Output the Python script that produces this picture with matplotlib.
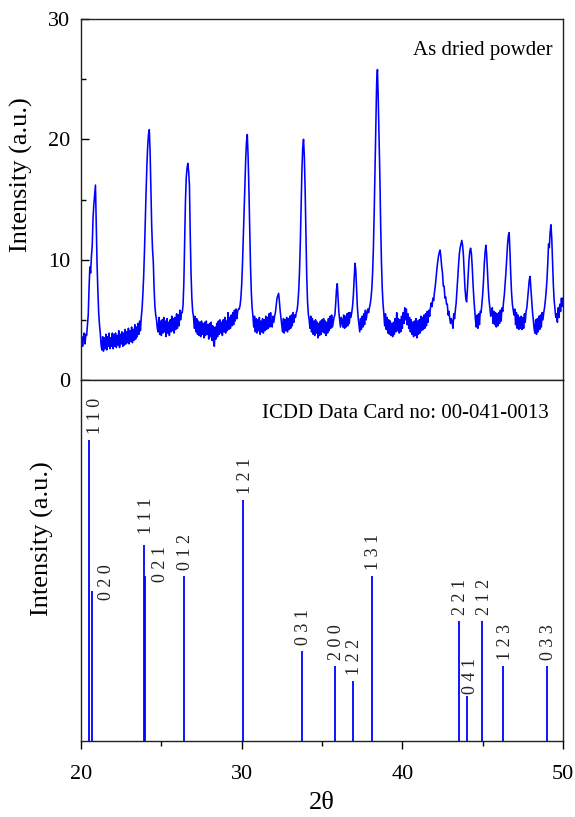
import numpy as np
import matplotlib
matplotlib.use("Agg")
import matplotlib.pyplot as plt
from matplotlib.ticker import MultipleLocator

plt.rcParams['font.family'] = ['Liberation Serif', 'DejaVu Serif']

# Measured pattern: intensity every 0.05 deg 2-theta, starting at 20.00 (one row per degree)
scan_start = 20.0
scan_step = 0.05
intensity_obs = [
    3.1, 3.6, 2.8, 3.5, 3.9, 3.0, 3.8, 3.7, 4.6, 5.4, 7.6, 9.4, 8.9, 10.3, 11.2, 13.5, 14.6, 15.4, 16.2, 12.8,   # 20
    9.6, 7.4, 5.6, 4.6, 3.9, 2.9, 2.5, 3.6, 2.4, 3.5, 2.6, 3.8, 2.5, 3.6, 2.8, 3.9, 2.6, 3.5, 2.8, 3.9,         # 21
    2.6, 3.8, 2.8, 3.9, 2.7, 3.7, 2.9, 4.1, 2.7, 3.8, 3.0, 4.0, 2.8, 3.9, 2.9, 4.2, 3.0, 4.0, 3.1, 4.3,         # 22
    3.0, 4.1, 3.2, 4.4, 3.1, 4.2, 3.3, 4.6, 3.4, 4.4, 3.6, 4.7, 3.8, 4.9, 4.1, 5.2, 5.9, 7.1, 8.6, 10.7,        # 23
    13.2, 15.6, 17.8, 19.4, 20.4, 20.8, 19.0, 15.8, 12.8, 10.9, 9.8, 7.6, 6.1, 5.4, 5.0, 4.3, 4.0, 5.2, 3.8, 4.9,  # 24
    3.7, 5.0, 3.9, 5.2, 4.0, 4.9, 3.6, 5.1, 3.9, 4.8, 3.7, 5.0, 4.0, 5.3, 4.1, 5.1, 3.9, 5.2, 4.2, 5.5,         # 25
    4.3, 5.4, 4.5, 5.8, 5.0, 5.6, 5.6, 6.2, 8.0, 11.2, 14.8, 16.8, 17.6, 18.0, 17.3, 16.2, 12.0, 8.8, 6.8, 5.7,  # 26
    5.3, 4.3, 5.3, 4.0, 5.1, 3.8, 4.9, 3.7, 4.8, 3.6, 4.9, 3.8, 4.7, 3.5, 4.8, 3.7, 4.9, 3.8, 4.6, 3.4,         # 27
    4.7, 3.6, 4.8, 3.3, 4.5, 3.2, 2.8, 4.4, 3.4, 4.7, 3.6, 4.9, 3.8, 5.0, 3.9, 4.8, 3.7, 5.0, 4.0, 5.2,         # 28
    3.9, 4.9, 4.1, 5.6, 4.2, 5.2, 4.3, 5.4, 4.5, 5.6, 4.6, 5.8, 4.9, 5.9, 5.1, 5.7, 5.9, 5.9, 6.2, 6.8,         # 29
    7.9, 9.6, 11.8, 14.0, 16.2, 18.3, 19.8, 20.4, 18.6, 15.9, 12.6, 9.5, 7.3, 6.0, 5.3, 4.4, 5.3, 4.0, 5.1, 3.9,  # 30
    5.0, 4.1, 5.2, 3.8, 4.9, 4.0, 5.1, 3.9, 5.0, 4.1, 5.3, 4.2, 5.2, 4.3, 5.5, 4.4, 5.6, 4.7, 4.4, 5.3,         # 31
    4.8, 5.3, 5.6, 6.2, 6.8, 7.0, 7.2, 6.5, 5.7, 5.1, 4.5, 4.0, 5.1, 3.9, 5.0, 4.1, 5.2, 4.0, 5.1, 4.2,         # 32
    5.3, 4.3, 5.4, 4.5, 5.6, 4.8, 5.4, 5.2, 5.6, 5.8, 6.4, 7.4, 9.0, 11.4, 14.5, 17.4, 19.3, 20.0, 18.6, 15.8,   # 33
    12.0, 8.6, 6.5, 5.5, 5.0, 4.3, 5.3, 4.0, 5.1, 3.8, 4.9, 3.7, 5.0, 3.9, 4.8, 3.5, 4.7, 3.7, 4.9, 3.8,        # 34
    5.0, 4.0, 5.1, 3.9, 4.9, 3.7, 4.8, 3.9, 5.1, 4.1, 5.3, 4.3, 5.4, 4.4, 4.8, 5.2, 5.4, 6.3, 7.5, 8.0,         # 35
    6.8, 5.6, 5.0, 4.4, 5.2, 4.9, 4.4, 5.4, 4.3, 5.3, 4.4, 5.5, 4.5, 5.6, 4.7, 5.6, 5.2, 5.6, 6.1, 7.0,         # 36
    8.3, 9.7, 9.2, 7.6, 6.1, 5.2, 4.6, 4.0, 5.1, 4.2, 5.3, 4.4, 5.5, 4.6, 5.8, 5.0, 5.5, 5.9, 5.6, 6.0,         # 37
    6.3, 6.8, 7.6, 8.9, 11.0, 14.0, 17.6, 21.4, 24.6, 25.8, 23.4, 20.2, 17.0, 13.0, 9.8, 7.6, 6.3, 5.5, 4.5, 5.5,  # 38
    4.2, 5.2, 3.9, 5.0, 3.8, 4.9, 3.7, 4.7, 3.6, 4.8, 3.8, 5.1, 4.0, 5.6, 4.1, 5.1, 3.9, 5.0, 4.0, 5.3,         # 39
    4.3, 5.6, 4.7, 6.0, 5.0, 5.9, 4.6, 5.5, 4.3, 5.2, 4.0, 5.0, 3.8, 4.8, 3.6, 4.9, 3.7, 5.1, 3.5, 4.9,         # 40
    3.8, 5.0, 3.9, 5.3, 4.1, 5.2, 4.2, 5.4, 4.3, 5.5, 4.5, 5.7, 4.8, 5.8, 5.3, 6.0, 6.4, 6.1, 6.8, 6.6,         # 41
    7.3, 7.8, 8.5, 9.2, 9.8, 10.3, 10.6, 10.8, 10.2, 9.4, 8.9, 7.8, 7.8, 6.8, 6.9, 6.3, 6.3, 5.4, 5.7, 5.1,     # 42
    4.7, 5.1, 4.8, 4.3, 5.5, 5.1, 5.8, 6.4, 7.4, 8.5, 9.6, 10.5, 11.0, 11.3, 11.6, 11.2, 10.4, 8.9, 7.6, 6.8,   # 43
    6.5, 7.5, 8.8, 10.0, 10.7, 10.95, 10.5, 9.4, 8.0, 6.8, 5.9, 5.0, 4.4, 5.4, 4.3, 5.5, 4.6, 5.7, 5.6, 6.3,    # 44
    7.1, 8.2, 9.6, 10.6, 11.2, 10.4, 9.0, 7.6, 6.6, 6.0, 5.3, 5.6, 6.0, 4.7, 5.7, 4.6, 5.6, 4.4, 5.5, 4.5,      # 45
    5.6, 4.7, 5.8, 4.9, 6.0, 5.7, 6.5, 7.1, 8.0, 9.0, 10.2, 11.3, 12.0, 12.25, 10.6, 8.7, 7.2, 6.3, 5.8, 5.4,   # 46
    5.9, 4.6, 5.6, 4.3, 5.4, 4.2, 5.2, 4.3, 5.3, 4.2, 5.2, 4.3, 5.5, 4.8, 5.7, 6.0, 6.8, 7.6, 8.3, 8.6,         # 47
    7.6, 6.5, 5.7, 5.0, 4.3, 3.9, 5.0, 3.8, 5.1, 4.0, 5.3, 4.2, 5.4, 4.4, 5.6, 5.0, 5.6, 6.0, 6.6, 7.3,         # 48
    8.3, 9.6, 11.3, 11.0, 12.3, 12.9, 11.8, 9.8, 7.9, 6.6, 5.9, 5.2, 5.5, 4.8, 6.0, 5.2, 6.3, 5.7, 6.8, 6.1,    # 49
    6.8,                                                                                                     # 50
]

# Reference card 00-041-0013: reflections, positions (deg 2-theta), relative intensities
hkl_labels = ["1 1 0", "0 2 0", "1 1 1", "0 2 1", "0 1 2", "1 2 1", "0 3 1", "2 0 0",
              "1 2 2", "1 3 1", "2 2 1", "0 4 1", "2 1 2", "1 2 3", "0 3 3"]
card_two_theta = [20.52, 20.66, 23.92, 24.00, 26.41, 30.10, 33.74, 35.81,
                  36.91, 38.09, 43.52, 44.02, 44.98, 46.29, 49.00]
card_intensity = [100, 50, 65, 55, 55, 80, 30, 25, 20, 55, 40, 15, 40, 25, 25]

# label placement tweaks in points: (horizontal shift, gap above the stick top)
label_nudge_default = (1.4, 4.3)
label_nudge = {
    "1 1 0": (4.3, 4.3),
    "0 2 0": (10.8, -6.5),
    "1 1 1": (1.9, 7.9),
    "0 2 1": (10.8, -4.3),
    "0 4 1": (2.9, 1.4),
}

two_theta = scan_start + scan_step * np.arange(len(intensity_obs))

W, H = 575, 817
fig = plt.figure(figsize=(W / 100, H / 100), dpi=100)

left, right = 81, 563
top_y0, mid_y, bot_y1 = 19, 380, 741
ax_top = fig.add_axes([left / W, (H - mid_y) / H, (right - left) / W, (mid_y - top_y0) / H])
ax_bot = fig.add_axes([left / W, (H - bot_y1) / H, (right - left) / W, (bot_y1 - mid_y) / H])

blue = "#0000ff"
tick_fs = 16
label_fs = 19

# --- upper panel: measured pattern ---
ax_top.plot(two_theta, intensity_obs, color=blue, lw=1.15)
ax_top.set_xlim(20, 50)
ax_top.set_ylim(0, 30)
ax_top.yaxis.set_major_locator(MultipleLocator(10))
ax_top.yaxis.set_minor_locator(MultipleLocator(5))
ax_top.tick_params(axis='y', which='major', direction='in', length=6, width=1.0,
                   labelsize=tick_fs, right=False, pad=8)
ax_top.tick_params(axis='y', which='minor', direction='in', length=3.5, width=1.0, right=False)
ax_top.tick_params(axis='x', which='both', bottom=False, top=False, labelbottom=False)
ax_top.set_ylabel("Intensity (a.u.)", fontsize=label_fs)
ax_top.yaxis.set_label_coords(-0.100, 0.57)
ax_top.text(0.979, 0.900, "As dried powder", transform=ax_top.transAxes,
            ha='right', va='baseline', fontsize=15)

# --- lower panel: reference sticks ---
ax_bot.vlines(card_two_theta, 0, card_intensity, colors=blue, lw=1.3)
for lab, tt, inten in zip(hkl_labels, card_two_theta, card_intensity):
    dx, dy = label_nudge.get(lab, label_nudge_default)
    ax_bot.annotate(lab, xy=(tt, inten), xytext=(dx, dy), textcoords='offset points',
                    rotation=90, ha='center', va='bottom', fontsize=13, color='#222222')
ax_bot.set_xlim(20, 50)
ax_bot.set_ylim(0, 120)
ax_bot.set_yticks([])
ax_bot.xaxis.set_major_locator(MultipleLocator(10))
ax_bot.xaxis.set_minor_locator(MultipleLocator(5))
ax_bot.tick_params(axis='x', which='major', direction='out', length=6, width=1.0,
                   labelsize=tick_fs, top=False, pad=11)
ax_bot.tick_params(axis='x', which='minor', direction='out', length=3.5, width=1.0, top=False)
ax_bot.set_ylabel("Intensity (a.u.)", fontsize=label_fs)
ax_bot.yaxis.set_label_coords(-0.056, 0.56)
ax_bot.set_xlabel("2θ", fontsize=label_fs)
ax_bot.xaxis.set_label_coords(0.5, -0.142)
ax_bot.text(0.971, 0.896, "ICDD Data Card no: 00-041-0013", transform=ax_bot.transAxes,
            ha='right', va='baseline', fontsize=15)

for ax in (ax_top, ax_bot):
    for sp in ax.spines.values():
        sp.set_linewidth(1.0)
        sp.set_color('#222222')

fig.savefig("out.png", dpi=100)
